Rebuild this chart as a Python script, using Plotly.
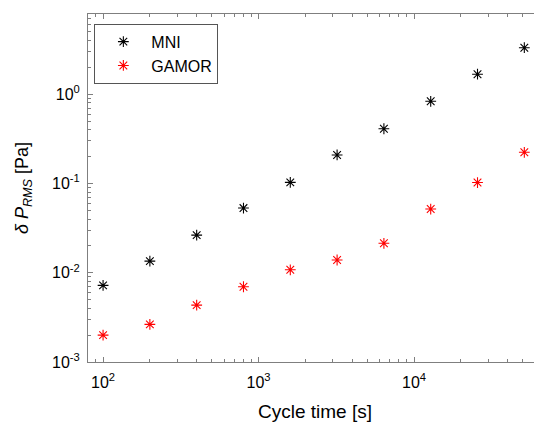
import plotly.graph_objects as go
import math

cycle_time = [100, 200, 400, 800, 1600, 3200, 6400, 12800, 25600, 51200]
mni = [0.00722, 0.0135, 0.0264, 0.0531, 0.103, 0.209, 0.411, 0.835, 1.68, 3.33]
gamor = [0.00200, 0.00264, 0.00434, 0.00697, 0.0108, 0.0139, 0.0214, 0.0518, 0.1026, 0.224]

x_major = [100, 1000, 10000]
x_major_text = ["10<sup>2</sup>", "10<sup>3</sup>", "10<sup>4</sup>"]
y_major = [0.001, 0.01, 0.1, 1]
y_major_text = ["10<sup>-3</sup>", "10<sup>-2</sup>", "10<sup>-1</sup>", "10<sup>0</sup>"]

x_minor = [m * 10 ** e for e in range(1, 5) for m in range(2, 10)]
y_minor = [m * 10 ** e for e in range(-3, 1) for m in range(2, 10)]

FONT = "Liberation Sans, Arial, sans-serif"
AX = "#7f7f7f"
XR = [math.log10(80), 4.823]
YR = [-3, 0.9]

fig = go.Figure()
fig.add_trace(go.Scatter(x=cycle_time, y=mni, mode="markers", name="MNI",
                         marker=dict(symbol="asterisk-open", size=9, color="#000000",
                                     line=dict(color="#000000", width=1.1))))
fig.add_trace(go.Scatter(x=cycle_time, y=gamor, mode="markers", name="GAMOR",
                         marker=dict(symbol="asterisk-open", size=9, color="#ff0000",
                                     line=dict(color="#ff0000", width=1.1))))
# invisible trace carrying the minor-tick axes
fig.add_trace(go.Scatter(x=[cycle_time[0]], y=[mni[0]], xaxis="x2", yaxis="y2",
                         mode="markers", marker=dict(opacity=0), showlegend=False,
                         hoverinfo="skip"))

common = dict(showgrid=False, zeroline=False, automargin=False)

fig.update_layout(
    width=534, height=417,
    margin=dict(l=80, r=0, t=6, b=63),
    paper_bgcolor="white", plot_bgcolor="white",
    font=dict(family=FONT, size=16, color="#000000"),
    showlegend=True,
    legend=dict(x=0.014, y=0.972, xanchor="left", yanchor="top",
                bordercolor="#555555", borderwidth=1, bgcolor="white",
                font=dict(size=16, color="#000000"),
                itemwidth=46, entrywidth=92, tracegroupgap=0),
    xaxis=dict(type="log", range=XR,
               tickvals=x_major, ticktext=x_major_text,
               ticks="inside", ticklen=5, tickcolor=AX,
               showline=True, linecolor=AX, linewidth=1, mirror="allticks",
               ticklabelstandoff=6,
               title=dict(text="Cycle time [s]", standoff=14, font=dict(size=19)),
               tickfont=dict(size=16), **common),
    yaxis=dict(type="log", range=YR,
               tickvals=y_major, ticktext=y_major_text,
               ticks="inside", ticklen=5, tickcolor=AX,
               showline=True, linecolor=AX, linewidth=1, mirror=False,
               ticklabelstandoff=4,
               title=dict(text="<i>δ P</i><sub><i>RMS</i></sub> [Pa]", standoff=18,
                          font=dict(size=18)),
               tickfont=dict(size=16), **common),
    xaxis2=dict(type="log", range=XR, overlaying="x", anchor="y2", side="bottom",
                tickvals=x_minor, showticklabels=False,
                ticks="inside", ticklen=3, tickcolor=AX, mirror="allticks",
                showline=False, **common),
    yaxis2=dict(type="log", range=YR, overlaying="y", anchor="x2", side="left",
                tickvals=y_minor, showticklabels=False,
                ticks="inside", ticklen=3, tickcolor=AX,
                showline=False, **common),
)

fig.write_html("out.html")
